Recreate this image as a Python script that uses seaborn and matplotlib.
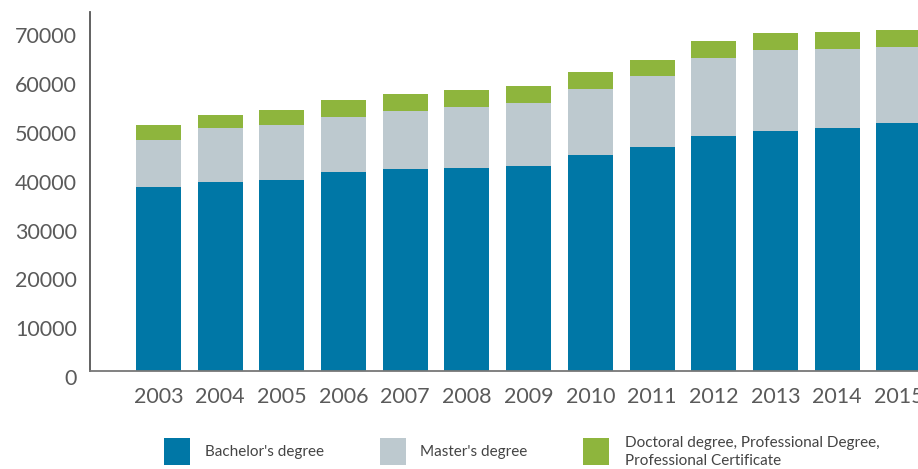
import matplotlib
matplotlib.use("Agg")
import matplotlib.pyplot as plt
import matplotlib.transforms as mtransforms
import seaborn as sns
import pandas as pd

years = ["2003", "2004", "2005", "2006", "2007", "2008", "2009",
         "2010", "2011", "2012", "2013", "2014", "2015"]
bachelor = [37570, 38590, 39000, 40630, 41250, 41450, 41860,
            44110, 45750, 48000, 49020, 49630, 50650]
master = [9550, 11040, 11250, 11250, 11860, 12470, 12880,
          13500, 14520, 15950, 16560, 16160, 15540]
doctoral = [3130, 2660, 3070, 3480, 3480, 3480, 3480,
            3480, 3270, 3480, 3480, 3480, 3480]
series_names = ["Bachelor's degree", "Master's degree",
                "Doctoral degree, Professional Degree,\nProfessional Certificate"]
colors = ["#0077a6", "#bdc9cf", "#8eb53d"]

df = pd.DataFrame({"year": years, "bachelor": bachelor,
                   "master": master, "doctoral": doctoral})
df["top_master"] = df["bachelor"] + df["master"]
df["top_doctoral"] = df["top_master"] + df["doctoral"]

sns.set_style("white")
plt.rcParams["font.family"] = ["Lato", "DejaVu Sans"]
text_color = "#5a5a5a"

fig = plt.figure(figsize=(9.18, 4.69), dpi=100)
ax = fig.add_axes([90.3 / 918, 1 - 370.7 / 469, 1 - 90.3 / 918, (370.7 - 12.3) / 469])

for col, c in [("top_doctoral", colors[2]), ("top_master", colors[1]), ("bachelor", colors[0])]:
    sns.barplot(data=df, x="year", y=col, order=years, color=c, width=0.73,
                saturation=1, ax=ax, edgecolor="none", linewidth=0)

ax.set_xlim(-1.105, 12.31)
ax.set_ylim(0, 73300)
ax.set_yticks(range(0, 70001, 10000))
ax.set_xlabel("")
ax.set_ylabel("")

for s in ["top", "right"]:
    ax.spines[s].set_visible(False)
ax.spines["left"].set_color("#555555")
ax.spines["left"].set_linewidth(1.3)
ax.spines["bottom"].set_color("#777777")
ax.spines["bottom"].set_linewidth(1.3)

ax.tick_params(axis="y", direction="in", length=14.5, width=1.2, color="#777777",
               pad=9.5, labelsize=15.5, labelcolor=text_color)
ax.tick_params(axis="x", length=0, pad=12, labelsize=15.5, labelcolor=text_color)
offset = mtransforms.ScaledTranslation(0, -6.5 / 100, fig.dpi_scale_trans)
for lab in ax.get_yticklabels():
    lab.set_transform(lab.get_transform() + offset)

positions = [(164 / 918, 205), (380 / 918, 420), (583 / 918, 625)]
for (hx, tx), name, c in zip(positions, series_names, colors):
    fig.patches.append(plt.Rectangle((hx, 1 - 465 / 469), 26 / 918, 27 / 469,
                                     transform=fig.transFigure, facecolor=c,
                                     edgecolor="none", figure=fig))
    fig.text(tx / 918, 1 - 452 / 469, name, ha="left", va="center",
             fontsize=11, color="#444444", linespacing=1.35)

fig.savefig("out.png", dpi=100)
